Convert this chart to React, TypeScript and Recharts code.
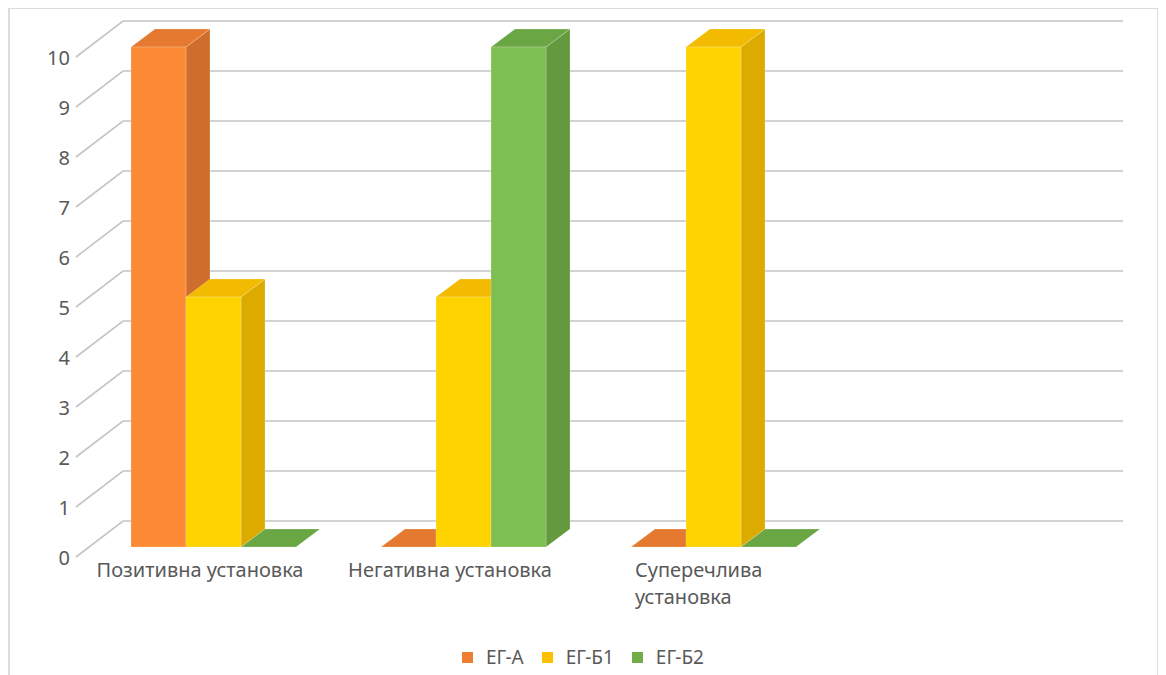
import React from 'react';
import { BarChart, Bar, XAxis, YAxis, CartesianGrid, Legend } from 'recharts';

// Categories (the fourth slot is an empty category on the axis)
const categories = ['Позитивна установка', 'Негативна установка', 'Суперечлива установка', ''];

// Series values per category
const egA = [10, 0, 0, null];
const egB1 = [5, 5, 10, null];
const egB2 = [0, 10, 0, null];

const yTicks = [0, 1, 2, 3, 4, 5, 6, 7, 8, 9, 10];

const seriesNames = ['ЕГ-А', 'ЕГ-Б1', 'ЕГ-Б2'];

const data = categories.map((name, i) => ({
  name,
  a: egA[i],
  b1: egB1[i],
  b2: egB2[i],
}));

// Face colours for the extruded columns
const palettes = {
  a: { legend: '#ED7D31', front: '#FD8A35', top: '#E4792F', side: '#CF6D2C' },
  b1: { legend: '#FFC000', front: '#FFD300', top: '#F2BA00', side: '#DDAA00' },
  b2: { legend: '#70AD47', front: '#7DBF50', top: '#6AA643', side: '#64993F' },
};

const DEPTH_X = 24;
const DEPTH_Y = 18;
const FONT = '"Noto Sans", "Open Sans", sans-serif';
const TEXT = '#595959';

const makeShape = (pal: { front: string; top: string; side: string }) => (props: any) => {
  const { x, y, width, height } = props;
  if (x == null || y == null || props.value == null) return null;
  const h = Math.max(0, height || 0);
  const w = width;
  const top = `${x},${y} ${x + DEPTH_X},${y - DEPTH_Y} ${x + w + DEPTH_X},${y - DEPTH_Y} ${x + w},${y}`;
  const side = `${x + w},${y} ${x + w + DEPTH_X},${y - DEPTH_Y} ${x + w + DEPTH_X},${y + h - DEPTH_Y} ${x + w},${y + h}`;
  return (
    <g>
      {h > 0 && (
        <polygon points={side} fill={pal.side} stroke="rgba(255,255,255,0.35)" strokeWidth={0.6} />
      )}
      <polygon points={top} fill={pal.top} stroke="rgba(255,255,255,0.35)" strokeWidth={0.6} />
      {h > 0 && (
        <rect x={x} y={y} width={w} height={h} fill={pal.front} stroke="rgba(255,255,255,0.35)" strokeWidth={0.6} />
      )}
    </g>
  );
};

// Gridline: short slanted segment on the side wall, then across the back wall
const gridLine = (props: any) => {
  const { x1, x2, y1, key } = props;
  const d = `M${x1 - 12},${y1 + 10} L${x1 + 35},${y1 - 26} L${x2 + 35},${y1 - 26}`;
  return <path key={key} d={d} fill="none" stroke="#c4c4c4" strokeWidth={1.6} />;
};

const YTick = (props: any) => {
  const { x, y, payload } = props;
  return (
    <text x={x - 10} y={y + 10} textAnchor="end" dominantBaseline="central" fill={TEXT} fontSize={20} fontFamily={FONT}>
      {payload.value}
    </text>
  );
};

const XTick = (props: any) => {
  const { x, y, payload } = props;
  const label: string = payload.value || '';
  if (!label) return null;
  const cx = x - 13;
  if (label.length > 20) {
    const words = label.split(' ');
    const left = cx - 65;
    return (
      <text x={left} y={y + 22} textAnchor="start" fill={TEXT} fontSize={20} fontFamily={FONT}>
        {words.map((wd, i) => (
          <tspan key={i} x={left} dy={i === 0 ? 0 : 27}>
            {wd}
          </tspan>
        ))}
      </text>
    );
  }
  return (
    <text x={cx} y={y + 22} textAnchor="middle" fill={TEXT} fontSize={20} fontFamily={FONT}>
      {label}
    </text>
  );
};

const LegendContent = () => {
  const keys: Array<keyof typeof palettes> = ['a', 'b1', 'b2'];
  return (
    <div style={{ display: 'flex', justifyContent: 'center', alignItems: 'center', gap: 18, fontFamily: FONT, fontSize: 19, color: TEXT }}>
      {keys.map((k, i) => (
        <div key={k} style={{ display: 'flex', alignItems: 'center' }}>
          <span style={{ width: 11, height: 11, background: palettes[k].legend, display: 'inline-block', marginRight: 13 }} />
          <span>{seriesNames[i]}</span>
        </div>
      ))}
    </div>
  );
};

export default function App() {
  return (
    <div style={{ position: 'relative', width: 1151, height: 680, background: '#fff' }}>
      <div
        style={{
          position: 'absolute',
          left: 0,
          top: -1,
          width: 1151,
          height: 700,
          border: '2px solid #dcdcdc',
          boxSizing: 'border-box',
          pointerEvents: 'none',
        }}
      />
      <BarChart
        width={1150}
        height={667}
        data={data}
        margin={{ top: 39, right: 70, bottom: 68, left: 20 }}
        barGap={0}
        barSize={55}
      >
        <CartesianGrid horizontal={gridLine} vertical={false} />
        <XAxis dataKey="name" axisLine={false} tickLine={false} interval={0} height={30} tick={<XTick />} />
        <YAxis
          domain={[0, 10]}
          ticks={yTicks}
          interval={0}
          width={60}
          axisLine={false}
          tickLine={false}
          tick={<YTick />}
        />
        <Legend
          verticalAlign="bottom"
          height={30}
          content={<LegendContent />}
          wrapperStyle={{ top: 636, bottom: 'auto', left: 0, width: 1150 }}
        />
        <Bar dataKey="a" name={seriesNames[0]} fill={palettes.a.legend} shape={makeShape(palettes.a)} isAnimationActive={false} />
        <Bar dataKey="b1" name={seriesNames[1]} fill={palettes.b1.legend} shape={makeShape(palettes.b1)} isAnimationActive={false} />
        <Bar dataKey="b2" name={seriesNames[2]} fill={palettes.b2.legend} shape={makeShape(palettes.b2)} isAnimationActive={false} />
      </BarChart>
    </div>
  );
}
